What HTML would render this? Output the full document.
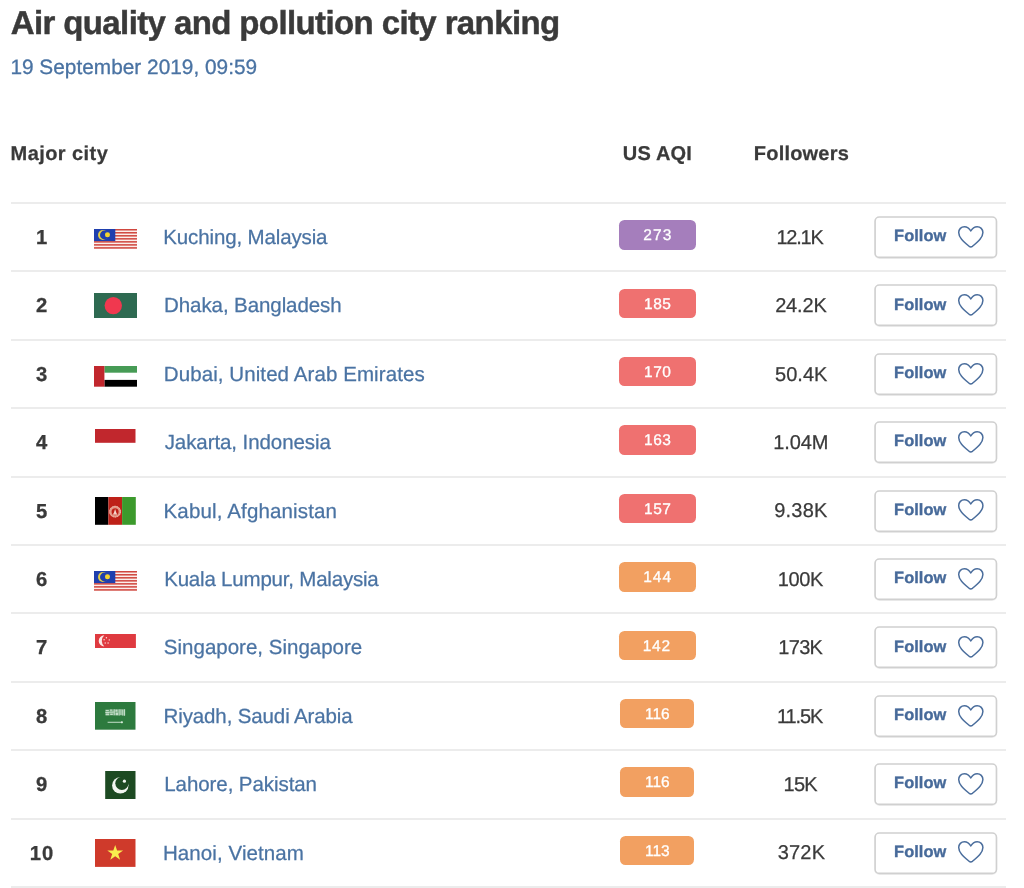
<!DOCTYPE html>
<html lang="en">
<head>
<meta charset="utf-8">
<title>Air quality and pollution city ranking</title>
<style>
*{box-sizing:border-box}
html,body{margin:0;padding:0;background:#fff}
body{text-rendering:geometricPrecision;width:1024px;height:888px;position:relative;overflow:hidden;font-family:"Liberation Sans",Arial,sans-serif;color:#3a3a3a}
h1{position:absolute;left:10.7px;top:3.4px;margin:0;font-size:33px;line-height:40px;font-weight:bold;color:#3a3a3a;white-space:nowrap;letter-spacing:-.61px;-webkit-text-stroke:.45px #3a3a3a}
.date{position:absolute;left:10.4px;top:54.9px;font-size:20.8px;line-height:26px;color:#4a73a3;white-space:nowrap;letter-spacing:.02px;-webkit-text-stroke:.3px #4a73a3}
.th{position:absolute;top:140.6px;-webkit-text-stroke:.25px #3a3a3a;font-size:20px;line-height:26px;font-weight:bold;color:#3a3a3a;white-space:nowrap}
.th.c{transform:translateX(-50%)}
.row{position:absolute;left:11px;width:994.5px;height:68.41px;border-top:2px solid #ececec}
.rank{position:absolute;left:0;width:61px;top:.9px;height:67px;line-height:67px;text-align:center;font-weight:bold;font-size:20.2px;color:#3a3a3a;letter-spacing:.9px;text-indent:.9px;-webkit-text-stroke:.3px #3a3a3a}
.flag{position:absolute;display:block}
.city{position:absolute;left:152.4px;top:0;height:67px;line-height:67px;font-size:20.5px;color:#4a73a3;white-space:nowrap;text-decoration:none;letter-spacing:.35px;-webkit-text-stroke:.25px #4a73a3}
.aqi{text-rendering:geometricPrecision;position:absolute;left:607.8px;top:16.1px;width:77.4px;height:29.5px;border-radius:5.5px;color:#fff;font-size:15.5px;line-height:31.4px;text-align:center;-webkit-text-stroke:.3px #fff}
.fol{position:absolute;left:740px;width:100px;top:.7px;height:67px;line-height:67px;text-align:center;font-size:20px;color:#3a3a3a;-webkit-text-stroke:.25px #3a3a3a}
.btn{position:absolute;left:862px;top:9px;width:126px;height:46px}
.btn span{position:absolute;left:21.1px;top:5.1px;line-height:36.6px;font-size:16.4px;font-weight:bold;color:#476a9a;-webkit-text-stroke:.35px #476a9a;letter-spacing:.05px}
.btn svg.h{position:absolute;left:84.4px;top:11.8px}
.btn svg.b{position:absolute;left:0;top:0}
.last{position:absolute;left:11px;width:994.5px;top:886.4px;height:2px;background:#ececec}
</style>
</head>
<body>
<h1>Air quality and pollution city ranking</h1>
<div class="date">19 September 2019, 09:59</div>
<div class="th" style="left:10.6px;letter-spacing:.43px">Major city</div>
<div class="th c" style="left:657.4px;letter-spacing:.15px">US AQI</div>
<div class="th c" style="left:801.4px;letter-spacing:.2px">Followers</div>

<div class="row" style="top:202.00px">
<div class="rank">1</div>
<svg class="flag" style="left:82.8px;top:25.0px" width="43" height="21.2" viewBox="0 0 43 21.2"><rect width="43" height="19.7" fill="#fbeeea"/><rect x="0" y="0.000" width="43" height="1.514" fill="#d0473f"/><rect x="0" y="3.029" width="43" height="1.514" fill="#d0473f"/><rect x="0" y="6.057" width="43" height="1.514" fill="#d0473f"/><rect x="0" y="9.086" width="43" height="1.514" fill="#d0473f"/><rect x="0" y="12.114" width="43" height="1.514" fill="#d0473f"/><rect x="0" y="15.143" width="43" height="1.514" fill="#d0473f"/><rect x="0" y="18.171" width="43" height="1.514" fill="#d0473f"/><rect width="21.3" height="12.1" fill="#1f3fae"/><circle cx="8.9" cy="6" r="4.9" fill="#e3cd45"/><circle cx="10.4" cy="6" r="4.4" fill="#1f3fae"/><circle cx="13.5" cy="5.85" r="2.5" fill="#f4d52e"/></svg>
<a class="city" style="letter-spacing:-0.131px;margin-left:-0.15px">Kuching, Malaysia</a>
<div class="aqi" style="background:#a57ebc;left:607.8px;width:77.3px"><span style="letter-spacing:1.100px;margin-right:-1.100px;position:relative;left:-0.20px">273</span></div>
<div class="fol"><span style="letter-spacing:-1.225px;margin-right:1.225px;position:relative;left:-0.85px">12.1K</span></div>
<div class="btn"><svg class="b" width="126" height="46" viewBox="0 0 126 46"><rect x="2.1" y="4.7" width="121.35" height="40.4" rx="4.2" fill="none" stroke="#f1f1f1" stroke-width="1.6"/><rect x="2.1" y="4" width="121.35" height="40.4" rx="4.2" fill="#fff" stroke="#d0d0d0" stroke-width="1.6"/></svg><span>Follow</span><svg class="h" width="28" height="24" viewBox="0 0 28 24"><path d="M13.8 6C12.4 3.4 10.2 1.7 7.4 1.7C4.2 1.7 1.7 4.2 1.7 7.6C1.7 12.6 6.5 16.5 12.2 21.4Q13.8 22.6 15.4 21.4C21.1 16.5 25.9 12.6 25.9 7.6C25.9 4.2 23.4 1.7 20.2 1.7C17.4 1.7 15.2 3.4 13.8 6Z" fill="none" stroke="#4a6d9c" stroke-width="1.5" stroke-linejoin="round"/></svg></div>
</div>
<div class="row" style="top:270.41px">
<div class="rank">2</div>
<svg class="flag" style="left:82.9px;top:20.6px" width="43" height="25" viewBox="0 0 43 25"><rect width="43" height="25" fill="#2e6a51"/><circle cx="19.3" cy="12.6" r="8.7" fill="#f0384f"/></svg>
<a class="city" style="letter-spacing:-0.088px;margin-left:0.70px">Dhaka, Bangladesh</a>
<div class="aqi" style="background:#ef7170;left:607.8px;width:77.3px"><span style="letter-spacing:0.500px;margin-right:-0.500px;position:relative;left:0.10px">185</span></div>
<div class="fol"><span style="letter-spacing:-0.175px;margin-right:0.175px;position:relative;left:-0.05px">24.2K</span></div>
<div class="btn"><svg class="b" width="126" height="46" viewBox="0 0 126 46"><rect x="2.1" y="4.7" width="121.35" height="40.4" rx="4.2" fill="none" stroke="#f1f1f1" stroke-width="1.6"/><rect x="2.1" y="4" width="121.35" height="40.4" rx="4.2" fill="#fff" stroke="#d0d0d0" stroke-width="1.6"/></svg><span>Follow</span><svg class="h" width="28" height="24" viewBox="0 0 28 24"><path d="M13.8 6C12.4 3.4 10.2 1.7 7.4 1.7C4.2 1.7 1.7 4.2 1.7 7.6C1.7 12.6 6.5 16.5 12.2 21.4Q13.8 22.6 15.4 21.4C21.1 16.5 25.9 12.6 25.9 7.6C25.9 4.2 23.4 1.7 20.2 1.7C17.4 1.7 15.2 3.4 13.8 6Z" fill="none" stroke="#4a6d9c" stroke-width="1.5" stroke-linejoin="round"/></svg></div>
</div>
<div class="row" style="top:338.82px">
<div class="rank">3</div>
<svg class="flag" style="left:82.9px;top:25.1px" width="43" height="20.7" viewBox="0 0 43 20.7"><rect width="43" height="20.7" fill="#fff"/><rect x="10.4" width="32.6" height="6.7" fill="#469b55"/><rect x="10.4" y="13.9" width="32.6" height="6.8" fill="#000"/><rect width="10.4" height="20.7" fill="#c1272d"/></svg>
<a class="city" style="letter-spacing:0.085px;margin-left:0.40px">Dubai, United Arab Emirates</a>
<div class="aqi" style="background:#ef7170;left:607.8px;width:77.3px"><span style="letter-spacing:0.500px;margin-right:-0.500px;position:relative;left:0.10px">170</span></div>
<div class="fol"><span style="letter-spacing:0.025px;margin-right:-0.025px;position:relative;left:0.25px">50.4K</span></div>
<div class="btn"><svg class="b" width="126" height="46" viewBox="0 0 126 46"><rect x="2.1" y="4.7" width="121.35" height="40.4" rx="4.2" fill="none" stroke="#f1f1f1" stroke-width="1.6"/><rect x="2.1" y="4" width="121.35" height="40.4" rx="4.2" fill="#fff" stroke="#d0d0d0" stroke-width="1.6"/></svg><span>Follow</span><svg class="h" width="28" height="24" viewBox="0 0 28 24"><path d="M13.8 6C12.4 3.4 10.2 1.7 7.4 1.7C4.2 1.7 1.7 4.2 1.7 7.6C1.7 12.6 6.5 16.5 12.2 21.4Q13.8 22.6 15.4 21.4C21.1 16.5 25.9 12.6 25.9 7.6C25.9 4.2 23.4 1.7 20.2 1.7C17.4 1.7 15.2 3.4 13.8 6Z" fill="none" stroke="#4a6d9c" stroke-width="1.5" stroke-linejoin="round"/></svg></div>
</div>
<div class="row" style="top:407.23px">
<div class="rank">4</div>
<svg class="flag" style="left:84.0px;top:19.5px" width="40.5" height="27" viewBox="0 0 40.5 27"><rect width="40.5" height="13.8" fill="#c1272d"/></svg>
<a class="city" style="letter-spacing:-0.076px;margin-left:1.25px">Jakarta, Indonesia</a>
<div class="aqi" style="background:#ef7170;left:607.8px;width:77.3px"><span style="letter-spacing:0.500px;margin-right:-0.500px;position:relative;left:0.10px">163</span></div>
<div class="fol"><span style="letter-spacing:-0.150px;margin-right:0.150px;position:relative;left:-0.20px">1.04M</span></div>
<div class="btn"><svg class="b" width="126" height="46" viewBox="0 0 126 46"><rect x="2.1" y="4.7" width="121.35" height="40.4" rx="4.2" fill="none" stroke="#f1f1f1" stroke-width="1.6"/><rect x="2.1" y="4" width="121.35" height="40.4" rx="4.2" fill="#fff" stroke="#d0d0d0" stroke-width="1.6"/></svg><span>Follow</span><svg class="h" width="28" height="24" viewBox="0 0 28 24"><path d="M13.8 6C12.4 3.4 10.2 1.7 7.4 1.7C4.2 1.7 1.7 4.2 1.7 7.6C1.7 12.6 6.5 16.5 12.2 21.4Q13.8 22.6 15.4 21.4C21.1 16.5 25.9 12.6 25.9 7.6C25.9 4.2 23.4 1.7 20.2 1.7C17.4 1.7 15.2 3.4 13.8 6Z" fill="none" stroke="#4a6d9c" stroke-width="1.5" stroke-linejoin="round"/></svg></div>
</div>
<div class="row" style="top:475.64px">
<div class="rank">5</div>
<svg class="flag" style="left:84.0px;top:19.4px" width="40.8" height="27.8" viewBox="0 0 40.8 27.8"><rect width="13.4" height="27.8" fill="#000"/><rect x="13.4" width="13.7" height="27.8" fill="#be2118"/><rect x="27.1" width="13.7" height="27.8" fill="#3c9a2c"/><circle cx="20.1" cy="14.7" r="4.7" fill="none" stroke="#e39887" stroke-width="2.4"/><circle cx="20.1" cy="14.7" r="5.4" fill="none" stroke="#f3c9bc" stroke-width=".7" stroke-dasharray="1.4 1"/><path d="M18.5 17.1l1.6-5l1.6 5z" fill="#f6d9cf"/><rect x="18.1" y="16.6" width="4" height="1.1" fill="#f3cbbe"/></svg>
<a class="city" style="letter-spacing:0.147px;margin-left:0.15px">Kabul, Afghanistan</a>
<div class="aqi" style="background:#ef7170;left:607.8px;width:77.3px"><span style="letter-spacing:0.500px;margin-right:-0.500px;position:relative;left:0.10px">157</span></div>
<div class="fol"><span style="letter-spacing:0.250px;margin-right:-0.250px;position:relative;left:-0.20px">9.38K</span></div>
<div class="btn"><svg class="b" width="126" height="46" viewBox="0 0 126 46"><rect x="2.1" y="4.7" width="121.35" height="40.4" rx="4.2" fill="none" stroke="#f1f1f1" stroke-width="1.6"/><rect x="2.1" y="4" width="121.35" height="40.4" rx="4.2" fill="#fff" stroke="#d0d0d0" stroke-width="1.6"/></svg><span>Follow</span><svg class="h" width="28" height="24" viewBox="0 0 28 24"><path d="M13.8 6C12.4 3.4 10.2 1.7 7.4 1.7C4.2 1.7 1.7 4.2 1.7 7.6C1.7 12.6 6.5 16.5 12.2 21.4Q13.8 22.6 15.4 21.4C21.1 16.5 25.9 12.6 25.9 7.6C25.9 4.2 23.4 1.7 20.2 1.7C17.4 1.7 15.2 3.4 13.8 6Z" fill="none" stroke="#4a6d9c" stroke-width="1.5" stroke-linejoin="round"/></svg></div>
</div>
<div class="row" style="top:544.05px">
<div class="rank">6</div>
<svg class="flag" style="left:82.8px;top:25.0px" width="43" height="21.2" viewBox="0 0 43 21.2"><rect width="43" height="19.7" fill="#fbeeea"/><rect x="0" y="0.000" width="43" height="1.514" fill="#d0473f"/><rect x="0" y="3.029" width="43" height="1.514" fill="#d0473f"/><rect x="0" y="6.057" width="43" height="1.514" fill="#d0473f"/><rect x="0" y="9.086" width="43" height="1.514" fill="#d0473f"/><rect x="0" y="12.114" width="43" height="1.514" fill="#d0473f"/><rect x="0" y="15.143" width="43" height="1.514" fill="#d0473f"/><rect x="0" y="18.171" width="43" height="1.514" fill="#d0473f"/><rect width="21.3" height="12.1" fill="#1f3fae"/><circle cx="8.9" cy="6" r="4.9" fill="#e3cd45"/><circle cx="10.4" cy="6" r="4.4" fill="#1f3fae"/><circle cx="13.5" cy="5.85" r="2.5" fill="#f4d52e"/></svg>
<a class="city" style="letter-spacing:-0.200px;margin-left:0.80px">Kuala Lumpur, Malaysia</a>
<div class="aqi" style="background:#f2a061;left:607.9px;width:77.0px"><span style="letter-spacing:0.950px;margin-right:-0.950px;position:relative;left:-0.25px">144</span></div>
<div class="fol"><span style="letter-spacing:-0.367px;margin-right:0.367px;position:relative;left:-0.45px">100K</span></div>
<div class="btn"><svg class="b" width="126" height="46" viewBox="0 0 126 46"><rect x="2.1" y="4.7" width="121.35" height="40.4" rx="4.2" fill="none" stroke="#f1f1f1" stroke-width="1.6"/><rect x="2.1" y="4" width="121.35" height="40.4" rx="4.2" fill="#fff" stroke="#d0d0d0" stroke-width="1.6"/></svg><span>Follow</span><svg class="h" width="28" height="24" viewBox="0 0 28 24"><path d="M13.8 6C12.4 3.4 10.2 1.7 7.4 1.7C4.2 1.7 1.7 4.2 1.7 7.6C1.7 12.6 6.5 16.5 12.2 21.4Q13.8 22.6 15.4 21.4C21.1 16.5 25.9 12.6 25.9 7.6C25.9 4.2 23.4 1.7 20.2 1.7C17.4 1.7 15.2 3.4 13.8 6Z" fill="none" stroke="#4a6d9c" stroke-width="1.5" stroke-linejoin="round"/></svg></div>
</div>
<div class="row" style="top:612.46px">
<div class="rank">7</div>
<svg class="flag" style="left:84.0px;top:19.4px" width="41" height="27" viewBox="0 0 41 27"><rect width="40.9" height="14" fill="#df3a40"/><path d="M9.3 1.3a5.6 5.6 0 1 0 0 11.2a7.6 7.6 0 0 1 0-11.2z" fill="#fbe9e6"/><g fill="#fbe3df"><circle cx="11.4" cy="3.7" r=".7"/><circle cx="9.1" cy="5.7" r=".7"/><circle cx="14.3" cy="5.9" r=".7"/><circle cx="10.2" cy="9" r=".7"/><circle cx="13.1" cy="9" r=".7"/></g></svg>
<a class="city" style="letter-spacing:0.005px;margin-left:0.45px">Singapore, Singapore</a>
<div class="aqi" style="background:#f2a061;left:607.9px;width:77.0px"><span style="letter-spacing:0.700px;margin-right:-0.700px;position:relative;left:-1.00px">142</span></div>
<div class="fol"><span style="letter-spacing:-0.700px;margin-right:0.700px;position:relative;left:-0.35px">173K</span></div>
<div class="btn"><svg class="b" width="126" height="46" viewBox="0 0 126 46"><rect x="2.1" y="4.7" width="121.35" height="40.4" rx="4.2" fill="none" stroke="#f1f1f1" stroke-width="1.6"/><rect x="2.1" y="4" width="121.35" height="40.4" rx="4.2" fill="#fff" stroke="#d0d0d0" stroke-width="1.6"/></svg><span>Follow</span><svg class="h" width="28" height="24" viewBox="0 0 28 24"><path d="M13.8 6C12.4 3.4 10.2 1.7 7.4 1.7C4.2 1.7 1.7 4.2 1.7 7.6C1.7 12.6 6.5 16.5 12.2 21.4Q13.8 22.6 15.4 21.4C21.1 16.5 25.9 12.6 25.9 7.6C25.9 4.2 23.4 1.7 20.2 1.7C17.4 1.7 15.2 3.4 13.8 6Z" fill="none" stroke="#4a6d9c" stroke-width="1.5" stroke-linejoin="round"/></svg></div>
</div>
<div class="row" style="top:680.87px">
<div class="rank">8</div>
<svg class="flag" style="left:84.0px;top:19.2px" width="40.5" height="27.7" viewBox="0 0 40.5 27.7"><rect width="40.5" height="27.7" fill="#2d7a3e"/><g fill="#d6ead9"><rect x="10.4" y="7.3" width="20" height="6.2" opacity=".3"/><path d="M10.6 8h3.2v1h-3.2zM10.3 9.8h4.2v1.1h-4.2zM10.6 11.6h3.6v1.6h-3.6zM15 7.6h2.4v1.2H15zM14.8 9.6h3.6v1.2h-3.6zM15.2 11.6h2.6v1.4h-2.6zM18.6 7.2h1.2v6h-1.2zM20.4 7.4h2.2v2.4h-2.2zM20.6 10.6h2.4v2.6h-2.4zM23.6 7.2h1.1v6.2h-1.1zM25.4 7.2h1.1v5.8h-1.1zM27.2 7.4h1v6h-1zM28.8 7.2h1.2v6.6h-1.2z" opacity=".85"/><rect x="12.6" y="19.8" width="15.4" height=".9"/><rect x="26" y="19.4" width="1.6" height="1.8"/></g></svg>
<a class="city" style="letter-spacing:-0.126px;margin-left:0.20px">Riyadh, Saudi Arabia</a>
<div class="aqi" style="background:#f2a061;left:609.2px;width:74.2px"><span style="letter-spacing:0.000px;margin-right:-0.000px;position:relative;left:0.10px">116</span></div>
<div class="fol"><span style="letter-spacing:-1.150px;margin-right:1.150px;position:relative;left:-0.80px">11.5K</span></div>
<div class="btn"><svg class="b" width="126" height="46" viewBox="0 0 126 46"><rect x="2.1" y="4.7" width="121.35" height="40.4" rx="4.2" fill="none" stroke="#f1f1f1" stroke-width="1.6"/><rect x="2.1" y="4" width="121.35" height="40.4" rx="4.2" fill="#fff" stroke="#d0d0d0" stroke-width="1.6"/></svg><span>Follow</span><svg class="h" width="28" height="24" viewBox="0 0 28 24"><path d="M13.8 6C12.4 3.4 10.2 1.7 7.4 1.7C4.2 1.7 1.7 4.2 1.7 7.6C1.7 12.6 6.5 16.5 12.2 21.4Q13.8 22.6 15.4 21.4C21.1 16.5 25.9 12.6 25.9 7.6C25.9 4.2 23.4 1.7 20.2 1.7C17.4 1.7 15.2 3.4 13.8 6Z" fill="none" stroke="#4a6d9c" stroke-width="1.5" stroke-linejoin="round"/></svg></div>
</div>
<div class="row" style="top:749.28px">
<div class="rank">9</div>
<svg class="flag" style="left:84.0px;top:19.3px" width="40.5" height="28" viewBox="0 0 40.5 28"><rect x="10.2" width="30.3" height="28" fill="#1d4a22"/><circle cx="25.3" cy="14.4" r="8.2" fill="#f2f6f1"/><circle cx="26.9" cy="12.3" r="6.6" fill="#1d4a22"/><circle cx="29.4" cy="10.2" r="1.6" fill="#f2f6f1"/></svg>
<a class="city" style="letter-spacing:-0.073px;margin-left:0.85px">Lahore, Pakistan</a>
<div class="aqi" style="background:#f2a061;left:609.2px;width:74.2px"><span style="letter-spacing:0.000px;margin-right:-0.000px;position:relative;left:0.10px">116</span></div>
<div class="fol"><span style="letter-spacing:-0.850px;margin-right:0.850px;position:relative;left:-0.45px">15K</span></div>
<div class="btn"><svg class="b" width="126" height="46" viewBox="0 0 126 46"><rect x="2.1" y="4.7" width="121.35" height="40.4" rx="4.2" fill="none" stroke="#f1f1f1" stroke-width="1.6"/><rect x="2.1" y="4" width="121.35" height="40.4" rx="4.2" fill="#fff" stroke="#d0d0d0" stroke-width="1.6"/></svg><span>Follow</span><svg class="h" width="28" height="24" viewBox="0 0 28 24"><path d="M13.8 6C12.4 3.4 10.2 1.7 7.4 1.7C4.2 1.7 1.7 4.2 1.7 7.6C1.7 12.6 6.5 16.5 12.2 21.4Q13.8 22.6 15.4 21.4C21.1 16.5 25.9 12.6 25.9 7.6C25.9 4.2 23.4 1.7 20.2 1.7C17.4 1.7 15.2 3.4 13.8 6Z" fill="none" stroke="#4a6d9c" stroke-width="1.5" stroke-linejoin="round"/></svg></div>
</div>
<div class="row" style="top:817.69px">
<div class="rank">10</div>
<svg class="flag" style="left:84.0px;top:19.2px" width="40.5" height="27.9" viewBox="0 0 40.5 27.9"><rect width="40.5" height="27.9" fill="#cf3a2b"/><path d="M20.2 5.9l1.9 5.7h6l-4.9 3.5l1.9 5.7l-4.9-3.5l-4.9 3.5l1.9-5.7l-4.9-3.5h6z" fill="#f8ee4e"/></svg>
<a class="city" style="letter-spacing:0.092px;margin-left:-0.50px">Hanoi, Vietnam</a>
<div class="aqi" style="background:#f2a061;left:609.2px;width:74.2px"><span style="letter-spacing:-0.050px;margin-right:0.050px;position:relative;left:0.05px">113</span></div>
<div class="fol"><span style="letter-spacing:0.233px;margin-right:-0.233px;position:relative;left:0.35px">372K</span></div>
<div class="btn"><svg class="b" width="126" height="46" viewBox="0 0 126 46"><rect x="2.1" y="4.7" width="121.35" height="40.4" rx="4.2" fill="none" stroke="#f1f1f1" stroke-width="1.6"/><rect x="2.1" y="4" width="121.35" height="40.4" rx="4.2" fill="#fff" stroke="#d0d0d0" stroke-width="1.6"/></svg><span>Follow</span><svg class="h" width="28" height="24" viewBox="0 0 28 24"><path d="M13.8 6C12.4 3.4 10.2 1.7 7.4 1.7C4.2 1.7 1.7 4.2 1.7 7.6C1.7 12.6 6.5 16.5 12.2 21.4Q13.8 22.6 15.4 21.4C21.1 16.5 25.9 12.6 25.9 7.6C25.9 4.2 23.4 1.7 20.2 1.7C17.4 1.7 15.2 3.4 13.8 6Z" fill="none" stroke="#4a6d9c" stroke-width="1.5" stroke-linejoin="round"/></svg></div>
</div>
<div class="last"></div>
</body>
</html>
